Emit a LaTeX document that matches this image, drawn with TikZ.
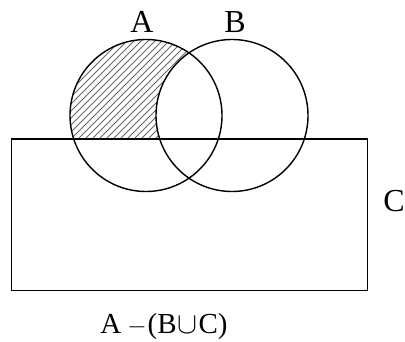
\documentclass[tikz,border=0pt]{standalone}
\usepackage{fontspec}
\setmainfont{Liberation Serif}
\begin{document}
\begin{tikzpicture}[x=1pt,y=-1pt,
  outline/.style={line width=1.4pt},
  hatch/.style={line width=0.8pt, black!60},
  biglabel/.style={font=\fontsize{32}{36}\selectfont, anchor=base, inner sep=0pt},
  smalllabel/.style={font=\fontsize{29}{33}\selectfont, anchor=base, inner sep=0pt}]
\useasboundingbox (0,0) rectangle (405,342);
\coordinate (ca) at (146,115.5);
\coordinate (cb) at (232,115.5);
% hatched region A - (B u C)
\begin{scope}
  \clip (ca) circle (76);
  \clip (0,0) rectangle (405,139);
  \begin{scope}[even odd rule]
    \clip (0,0) rectangle (405,342) (cb) circle (76);
    \foreach \k in {-200,-193,...,400} \draw[hatch] (\k,200) -- (\k+200,0);
  \end{scope}
\end{scope}
\draw[outline] (ca) circle (76);
\draw[outline] (cb) circle (76);
\draw[outline] (11.7,139) rectangle (367.7,290.7);
\node[biglabel] (la) at (142,33) {A};
\node[biglabel] (lb) at (235,33) {B};
\node[biglabel] (lc) at (394,212) {C};
\node[smalllabel] (ld) at (164,334) {A\hspace{6pt}$-$\hspace{1pt}(B\hspace{1pt}\scalebox{1.2}{$\cup$}\hspace{1pt}C)};
\end{tikzpicture}
\end{document}
